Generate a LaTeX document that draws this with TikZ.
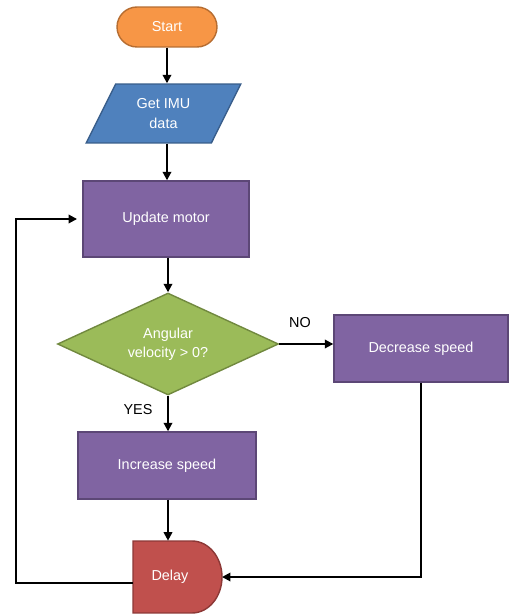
\documentclass[tikz,border=0pt]{standalone}
\usepackage{fontspec}
\setmainfont{Liberation Sans}
\usepackage{tikz}
\usetikzlibrary{shapes.geometric, arrows.meta}
\usepackage{xcolor}

\definecolor{startfill}{HTML}{F79646}
\definecolor{startline}{HTML}{B66D31}
\definecolor{imufill}{HTML}{4F81BD}
\definecolor{imuline}{HTML}{385D8A}
\definecolor{boxfill}{HTML}{8064A2}
\definecolor{boxline}{HTML}{5C4776}
\definecolor{askfill}{HTML}{9BBB59}
\definecolor{askline}{HTML}{71893F}
\definecolor{delayfill}{HTML}{C0504D}
\definecolor{delayline}{HTML}{8C3836}

\begin{document}
\begin{tikzpicture}[x=0.02cm, y=-0.02cm,
  every node/.style={font=\fontsize{8.2}{11}\selectfont, align=center},
  shape line/.style={line width=0.8pt, text=white},
  box/.style={shape line, rectangle, draw=boxline, fill=boxfill},
  flow/.style={-{Triangle[length=1.7mm,width=1.7mm]}, line width=1.1pt}]

\useasboundingbox (0,0) rectangle (510,615);

% -------------------------
% Start and input
% -------------------------
\node[shape line, draw=startline, fill=startfill, rounded corners=0.4cm,
      minimum width=2cm, minimum height=0.8cm] (start) at (167,27) {Start};

\node[shape line, trapezium, trapezium left angle=64, trapezium right angle=116,
      trapezium stretches=true, draw=imuline, fill=imufill,
      minimum width=3.1cm, minimum height=1.18cm] (imu) at (163.5,113.5) {Get IMU\\data};

% -------------------------
% Motor boxes
% -------------------------
\node[box, minimum width=3.32cm, minimum height=1.52cm] (upd) at (166,219) {Update motor};
\node[box, minimum width=3.56cm, minimum height=1.34cm] (incr) at (167,465.5) {Increase speed};
\node[box, minimum width=3.48cm, minimum height=1.34cm] (decr) at (421,348.5) {Decrease speed};

% -------------------------
% Decision
% -------------------------
\node[shape line, diamond, aspect=2.2, inner sep=0pt, draw=askline, fill=askfill,
      minimum width=4.42cm, minimum height=2.04cm] (ask) at (168,344) {Angular\\velocity > 0?};

\node (no)  at (300,323) {NO};
\node (yes) at (138,410) {YES};

% -------------------------
% Delay
% -------------------------
\coordinate (delaypos) at (170,577);
\draw[line width=0.8pt, draw=delayline, fill=delayfill]
  ([shift={(-37,-36)}]delaypos) -- ++(59,0)
  arc[start angle=90, end angle=-90, x radius=0.6cm, y radius=0.72cm]
  -- ++(-59,0) -- cycle;
\node[text=white, minimum width=1.48cm, minimum height=1.44cm] (delay) at (delaypos) {Delay};

\coordinate (delayin)  at ([xshift=1.04cm]delaypos);
\coordinate (delayout) at ([yshift=-0.12cm]delay.west);
\coordinate (back)     at (16,0);

% -------------------------
% Arrows
% -------------------------
\draw[flow] (start.south) -- (start.south |- imu.north);
\draw[flow] (start.south |- imu.south) -- (start.south |- upd.north);
\draw[flow] (ask.north |- upd.south) -- (ask.north);
\draw[flow] (ask.south) -- (ask.south |- incr.north);
\draw[flow] (ask.east) -- (ask.east -| decr.west);
\draw[flow] (ask.south |- incr.south) -- (ask.south |- delay.north);
\draw[flow] (decr.south) |- (delayin);
\draw[flow, shorten >=3pt] (delayout) -- (delayout -| back) |- (upd.west);

\end{tikzpicture}
\end{document}
